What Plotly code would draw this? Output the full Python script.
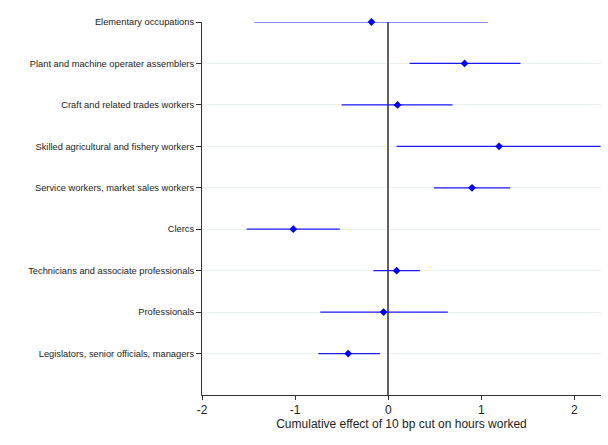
import plotly.graph_objects as go

# Occupation groups, listed from the bottom of the chart to the top
occupations = [
    "Legislators, senior officials, managers",
    "Professionals",
    "Technicians and associate professionals",
    "Clercs",
    "Service workers, market sales workers",
    "Skilled agricultural and fishery workers",
    "Craft and related trades workers",
    "Plant and machine operater assemblers",
    "Elementary occupations",
]
# Point estimates and confidence bounds
estimate = [-0.43, -0.05, 0.09, -1.02, 0.90, 1.19, 0.10, 0.82, -0.18]
ci_low = [-0.75, -0.73, -0.16, -1.52, 0.49, 0.09, -0.50, 0.23, -1.44]
ci_high = [-0.09, 0.64, 0.34, -0.52, 1.31, 2.28, 0.69, 1.42, 1.07]

x_ticks = [-2, -1, 0, 1, 2]

ypos = list(range(1, len(occupations) + 1))
err_plus = [h - e for h, e in zip(ci_high, estimate)]
err_minus = [e - l for e, l in zip(estimate, ci_low)]

fig = go.Figure()
fig.add_trace(go.Scatter(
    x=estimate,
    y=ypos,
    mode="markers",
    marker=dict(symbol="diamond", size=6, color="#0000ff"),
    error_x=dict(type="data", symmetric=False, array=err_plus,
                 arrayminus=err_minus, color="#1a1aff", thickness=1.2, width=0),
    cliponaxis=False,
    showlegend=False,
))

fig.update_layout(
    width=608,
    height=445,
    margin=dict(l=202, r=7, t=22, b=50),
    paper_bgcolor="white",
    plot_bgcolor="white",
    font=dict(family="Liberation Sans, Arial, sans-serif", color="#222"),
    xaxis=dict(
        range=[-2, 2.285],
        tickvals=x_ticks,
        ticktext=[str(v) for v in x_ticks],
        tickfont=dict(size=12),
        ticks="outside", ticklen=4, tickcolor="#333",
        showline=True, linecolor="#333", linewidth=1,
        showgrid=False,
        zeroline=True, zerolinecolor="#606060", zerolinewidth=1.5,
        title=dict(text="Cumulative effect of 10 bp cut on hours worked",
                   font=dict(size=12), standoff=2),
    ),
    yaxis=dict(
        range=[0, 9],
        tickvals=ypos,
        ticktext=occupations,
        tickfont=dict(size=9.3),
        ticks="outside", ticklen=5, tickcolor="#333",
        showline=True, linecolor="#333", linewidth=1,
        showgrid=True, gridcolor="#eaf1f1", gridwidth=1,
        zeroline=False,
    ),
)

fig.write_html("out.html")
